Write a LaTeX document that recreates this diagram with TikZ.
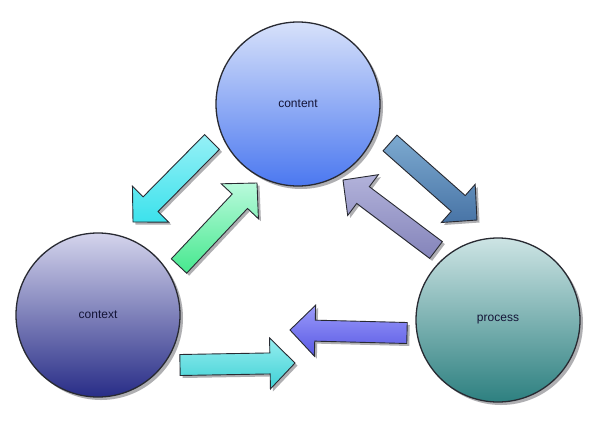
\documentclass[tikz,border=0pt]{standalone}
\usepackage{fontspec}
\setmainfont{Liberation Sans}
\usetikzlibrary{calc,shadows}

\definecolor{edgegray}{RGB}{40,42,50}
\definecolor{shadowgray}{RGB}{175,175,178}
\definecolor{labelnavy}{RGB}{20,20,55}

% block arrow from #1 (tail) to #2 (tip), #3 = fill options
\newcommand{\blockarrow}[3]{%
  \path[barrow,#3] let \p1=($(#2)-(#1)$), \n1={atan2(\y1,\x1)}, \n2={veclen(\x1,\y1)-25} in
    ($(#1)+(\n1+90:10.5pt)$) -- ($(#1)+(\n1:\n2)+(\n1+90:10.5pt)$)
    -- ($(#1)+(\n1:\n2)+(\n1+90:25.5pt)$) -- (#2)
    -- ($(#1)+(\n1:\n2)+(\n1-90:25.5pt)$) -- ($(#1)+(\n1:\n2)+(\n1-90:10.5pt)$)
    -- ($(#1)+(\n1-90:10.5pt)$) -- cycle;}

\begin{document}
\begin{tikzpicture}[x=1pt,y=-1pt,
    bubble/.style={circle,minimum size=164pt,inner sep=0pt,draw=edgegray,line width=1.3pt,
      text=labelnavy,font=\fontsize{12}{14}\selectfont,
      drop shadow={shadow xshift=3pt,shadow yshift=-3pt,fill=shadowgray,opacity=1}},
    barrow/.style={draw=edgegray,line width=0.9pt,line join=miter,
      drop shadow={shadow xshift=2.5pt,shadow yshift=-2.5pt,fill=shadowgray,opacity=1}}]
  \useasboundingbox[fill=white] (0,0) rectangle (596,423);

  % the three circles
  \node[bubble,top color={rgb,255:red,215;green,225;blue,250},bottom color={rgb,255:red,75;green,120;blue,240}]
    (content) at (298,104) {content};
  \node[bubble,top color={rgb,255:red,212;green,212;blue,236},bottom color={rgb,255:red,40;green,45;blue,135}]
    (context) at (98,315) {context};
  \node[bubble,top color={rgb,255:red,205;green,228;blue,228},bottom color={rgb,255:red,45;green,128;blue,128}]
    (process) at (498,320) {process};

  % arrow ends
  \coordinate (cnt-ctx-s) at (212,142);
  \coordinate (cnt-ctx-e) at (133,222);
  \coordinate (ctx-cnt-s) at (179,266);
  \coordinate (ctx-cnt-e) at (257,183);
  \coordinate (cnt-prc-s) at (390,143);
  \coordinate (cnt-prc-e) at (477,220);
  \coordinate (prc-cnt-s) at (436,250);
  \coordinate (prc-cnt-e) at (343,180);
  \coordinate (ctx-prc-s) at (180,365);
  \coordinate (ctx-prc-e) at (295,363);
  \coordinate (prc-ctx-s) at (407,333);
  \coordinate (prc-ctx-e) at (290,330);

  \blockarrow{cnt-ctx-s}{cnt-ctx-e}{top color={rgb,255:red,150;green,240;blue,246},bottom color={rgb,255:red,60;green,226;blue,236}}
  \blockarrow{ctx-cnt-s}{ctx-cnt-e}{top color={rgb,255:red,185;green,250;blue,220},bottom color={rgb,255:red,70;green,232;blue,142}}
  \blockarrow{cnt-prc-s}{cnt-prc-e}{top color={rgb,255:red,125;green,170;blue,208},bottom color={rgb,255:red,72;green,116;blue,166}}
  \blockarrow{prc-cnt-s}{prc-cnt-e}{top color={rgb,255:red,178;green,178;blue,218},bottom color={rgb,255:red,132;green,132;blue,186}}
  \blockarrow{ctx-prc-s}{ctx-prc-e}{top color={rgb,255:red,150;green,238;blue,240},bottom color={rgb,255:red,62;green,208;blue,212}}
  \blockarrow{prc-ctx-s}{prc-ctx-e}{top color={rgb,255:red,155;green,155;blue,250},bottom color={rgb,255:red,88;green,88;blue,228}}
\end{tikzpicture}
\end{document}
